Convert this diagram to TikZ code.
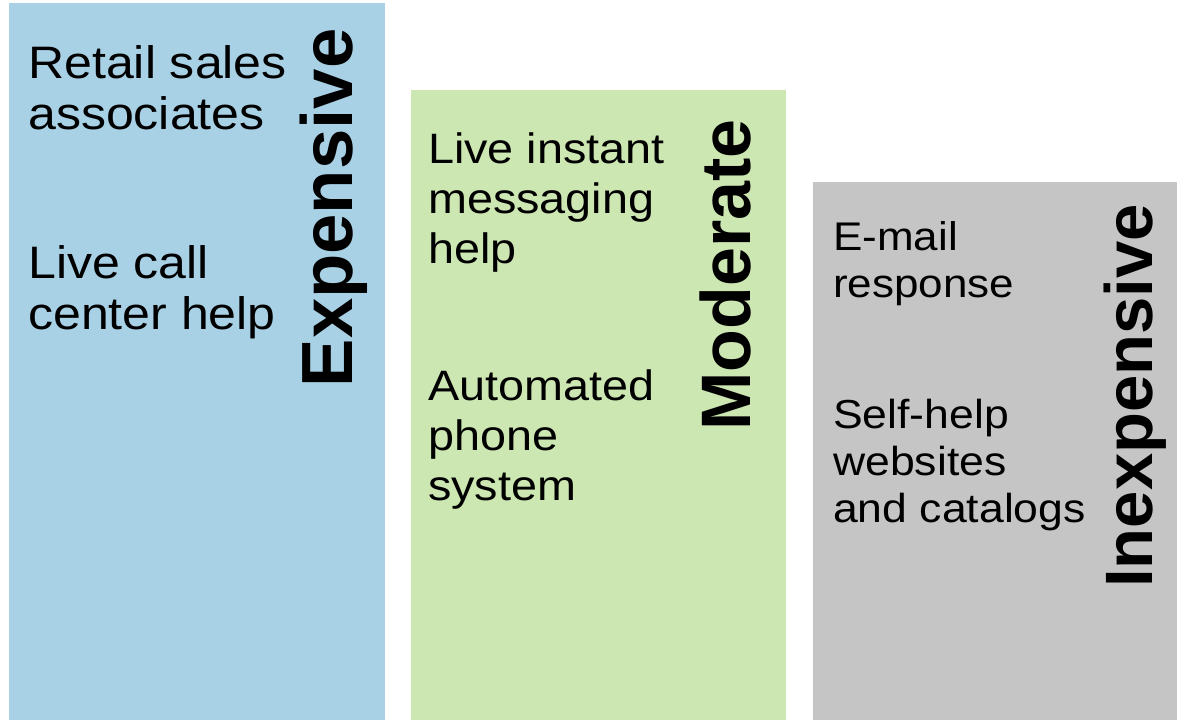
\documentclass[tikz,border=0pt]{standalone}
\usepackage{fontspec}
\setmainfont{Liberation Sans}
\newfontfamily\itemfont[FakeStretch = 1.1]{Liberation Sans}
\usepackage{tikz}
\usetikzlibrary{positioning}
\definecolor{costhigh}{HTML}{A9D1E5}
\definecolor{costmid}{HTML}{CDE7B3}
\definecolor{costlow}{HTML}{C5C5C5}
\tikzstyle{bar} = [rectangle, anchor = north west, inner sep = 0, draw = none]
\tikzstyle{item} = [anchor = base west, align = left, inner sep = 0]
\tikzstyle{level} = [rotate = 90, anchor = base, inner sep = 0]

\begin{document}
\begin{tikzpicture}[x = 1pt, y = -1pt]
    \useasboundingbox (0, 0) rectangle (1177, 720);
    % bars
    \node [bar, fill = costhigh, minimum width = 376, minimum height = 717] (bar-high) at (9, 3) {};
    \node [bar, fill = costmid, minimum width = 375, minimum height = 630] (bar-mid) at (411, 90) {};
    \node [bar, fill = costlow, minimum width = 364, minimum height = 538] (bar-low) at (813, 182) {};
    % expensive
    \node [item, font = \itemfont\fontsize{45.5}{51}\selectfont] (item-high-a) at (28, 129) {Retail sales\\associates};
    \node [item, font = \itemfont\fontsize{45.5}{51}\selectfont] (item-high-b) at (28, 329) {Live call\\center help};
    \node [level, font = \bfseries\fontsize{72.5}{72}\selectfont] (level-high) at (352, 208) {Expensive};
    % moderate
    \node [item, font = \itemfont\fontsize{42.5}{50}\selectfont] (item-mid-a) at (428, 263) {Live instant\\messaging\\help};
    \node [item, font = \itemfont\fontsize{42.5}{50}\selectfont] (item-mid-b) at (428, 500) {Automated\\phone\\system};
    \node [level, font = \bfseries\fontsize{70}{70}\selectfont] (level-mid) at (750, 275) {Moderate};
    % inexpensive
    \node [item, font = \itemfont\fontsize{40}{47}\selectfont] (item-low-a) at (833, 297) {E-mail\\response};
    \node [item, font = \itemfont\fontsize{40.5}{47}\selectfont] (item-low-b) at (833, 522) {Self-help\\websites\\and catalogs};
    \node [level, font = \bfseries\fontsize{67}{67}\selectfont] (level-low) at (1152, 396) {Inexpensive};
\end{tikzpicture}
\end{document}
